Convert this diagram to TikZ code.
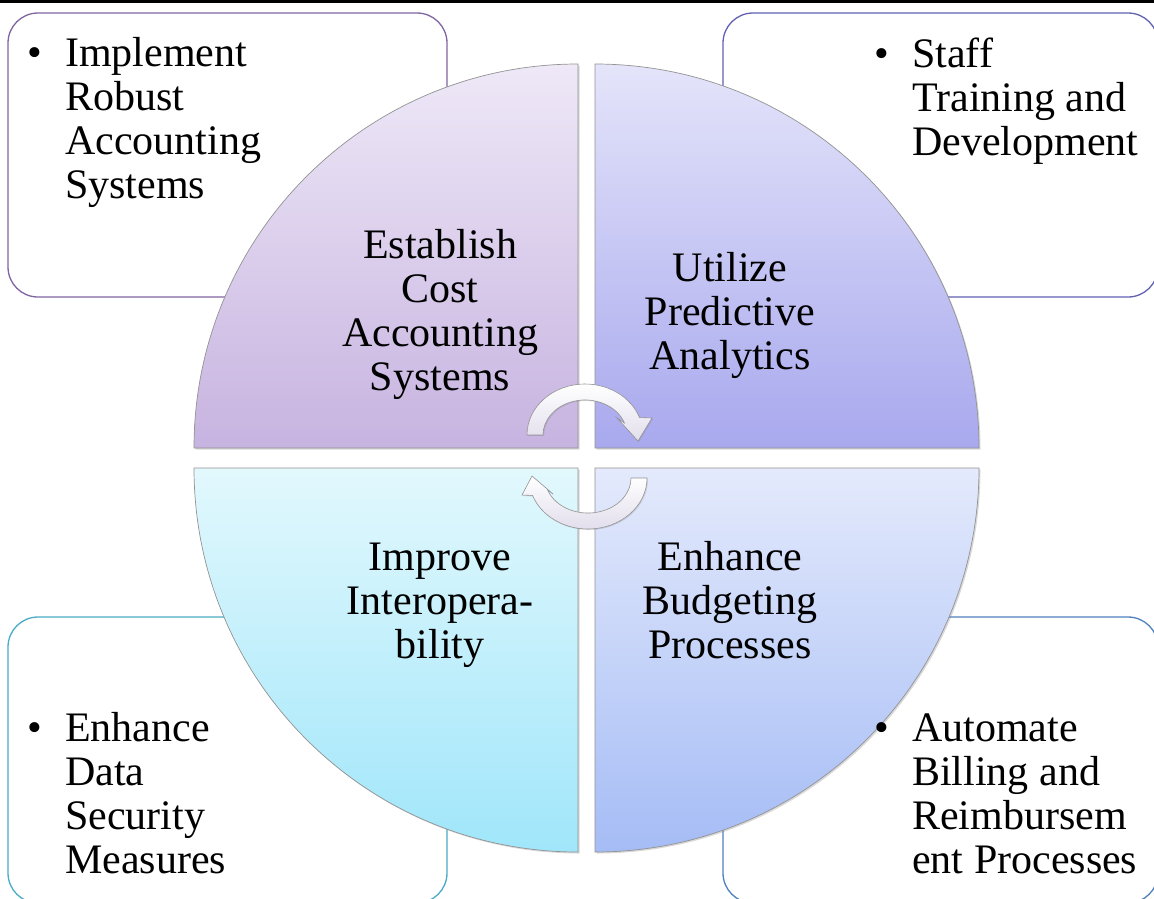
\documentclass[tikz,border=0pt]{standalone}
\usepackage{fontspec}
\setmainfont{Liberation Serif}
\usetikzlibrary{shadows}
\definecolor{tlline}{HTML}{8064A2}
\definecolor{trline}{HTML}{6262B4}
\definecolor{blline}{HTML}{4BACC6}
\definecolor{brline}{HTML}{4F81BD}
\definecolor{tltop}{HTML}{EEE8F7}
\definecolor{tlbot}{HTML}{C7B3E0}
\definecolor{trtop}{HTML}{E4E4FA}
\definecolor{trbot}{HTML}{A8A8EE}
\definecolor{bltop}{HTML}{E2F8FD}
\definecolor{blbot}{HTML}{A0E6FA}
\definecolor{brtop}{HTML}{E4EAFC}
\definecolor{brbot}{HTML}{A5BCF5}
\definecolor{arrbot}{HTML}{E2DEEC}
\newcommand{\lstack}[1]{\vtop{\baselineskip=44pt\lineskiplimit=-50pt\halign{##\hfil\cr#1\crcr}}}
\newcommand{\cstack}[1]{\vtop{\baselineskip=44pt\lineskiplimit=-50pt\halign{\hfil##\hfil\cr#1\crcr}}}
\begin{document}
\begin{tikzpicture}[x=1pt,y=-1pt,
  sbox/.style={draw, line width=1.3pt, rounded corners=30pt, fill=white, inner sep=0pt},
  quad/.style={draw=gray!85, line width=0.7pt, drop shadow={opacity=0.3, shadow xshift=1.5pt, shadow yshift=-1.5pt}},
  arrowsty/.style={draw=gray!85, line width=0.6pt, top color=white, bottom color=arrbot, drop shadow={opacity=0.25, shadow xshift=1pt, shadow yshift=-1pt}},
  txt/.style={font=\fontsize{42}{44}\selectfont, inner sep=0pt, anchor=base}
]
\useasboundingbox (0,0) rectangle (1154,898);
\clip (0,0) rectangle (1154,898);
\fill[white] (0,0) rectangle (1154,898);

% outer boxes
\node[sbox, draw=tlline, minimum width=439pt, minimum height=284pt] (tlbox) at (227.5,155) {};
\node[sbox, draw=trline, minimum width=435pt, minimum height=284pt] (trbox) at (940.5,155) {};
\node[sbox, draw=blline, minimum width=439pt, minimum height=286pt] (blbox) at (227.5,760) {};
\node[sbox, draw=brline, minimum width=435pt, minimum height=286pt] (brbox) at (940.5,760) {};

% quadrants
\path[quad, top color=tltop, bottom color=tlbot] (578,448) -- (194,448) arc[start angle=180, end angle=270, radius=384] -- cycle;
\path[quad, top color=trtop, bottom color=trbot] (595,448) -- (595,64) arc[start angle=270, end angle=360, radius=384] -- cycle;
\path[quad, top color=brtop, bottom color=brbot] (595,468) -- (979,468) arc[start angle=0, end angle=90, radius=384] -- cycle;
\path[quad, top color=bltop, bottom color=blbot] (578,468) -- (578,852) arc[start angle=90, end angle=180, radius=384] -- cycle;

% circular arrows
\path[arrowsty] (527,435) arc[start angle=180, end angle=340, x radius=58, y radius=51]
  -- (652,418) -- (638,441) -- (617,418) -- (624.5,423)
  arc[start angle=340, end angle=180, x radius=42, y radius=35] -- cycle;
\path[arrowsty] (647,478) arc[start angle=0, end angle=160, x radius=59, y radius=51]
  -- (522,495) -- (532,476) -- (553,494) -- (547.6,490)
  arc[start angle=160, end angle=0, x radius=43, y radius=35] -- cycle;

% quadrant texts
\node[txt] (q1) at (440,258) {\cstack{Establish\cr Cost\cr Accounting\cr Systems}};
\node[txt] (q2) at (730,281) {\cstack{Utilize\cr Predictive\cr Analytics}};
\node[txt] (q3) at (440,570) {\cstack{Improve\cr Interopera-\cr bility}};
\node[txt] (q4) at (730,570) {\cstack{Enhance\cr Budgeting\cr Processes}};

% box texts
\node[txt] (b1) at (35,66) {•};
\node[txt, anchor=base west] (t1) at (65,66) {\lstack{Implement\cr Robust\cr Accounting\cr Systems}};
\node[txt] (b2) at (882,67) {•};
\node[txt, anchor=base west] (t2) at (912,67) {\lstack{Staff\cr Training and\cr Development}};
\node[txt] (b3) at (35,741) {•};
\node[txt, anchor=base west] (t3) at (65,741) {\lstack{Enhance\cr Data\cr Security\cr Measures}};
\node[txt] (b4) at (882,741) {•};
\node[txt, anchor=base west] (t4) at (912,741) {\lstack{Automate\cr Billing and\cr Reimbursem\cr ent Processes}};

% top rule
\fill[black] (0,0) rectangle (1154,2.5);
\end{tikzpicture}
\end{document}
